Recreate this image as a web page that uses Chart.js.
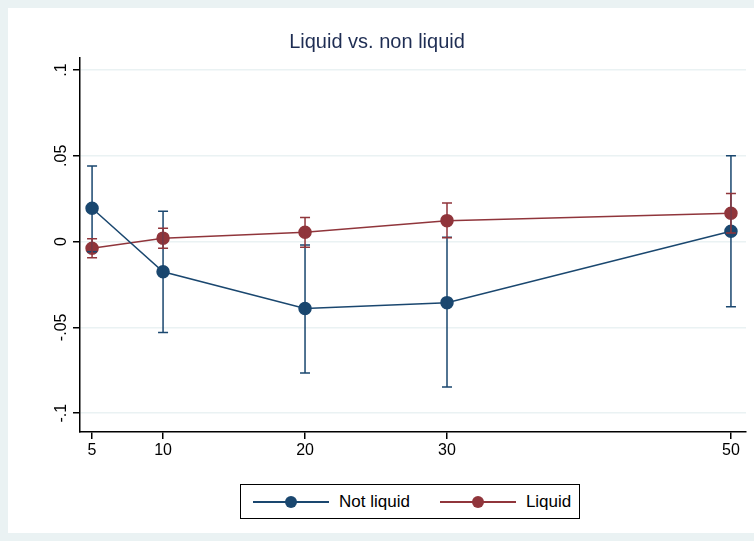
<!DOCTYPE html>
<html>
<head>
<meta charset="utf-8">
<script src="https://cdn.jsdelivr.net/npm/chart.js@4"></script>
<style>
  body { margin: 0; background: #eaf2f3; font-family: Arial, "Liberation Sans", sans-serif; }
  #wrap { position: relative; width: 754px; height: 541px; }
  #legend { position: absolute; left: 240px; top: 484px; width: 340px; height: 35px; background: #fff;
            border: 1px solid #000; box-sizing: border-box; display: flex; align-items: center; font-size: 17px; }
  .item { display: flex; align-items: center; }
  .sym { position: relative; width: 76px; height: 12px; margin-right: 10px; }
  .sym .ln { position: absolute; left: 0; right: 0; top: 5px; height: 2px; }
  .sym .dt { position: absolute; left: 32px; top: 0; width: 12px; height: 12px; border-radius: 50%; }
</style>
</head>
<body>
<div id="wrap">
  <canvas id="c" width="754" height="541"></canvas>
  <div id="legend">
    <div class="item" style="margin-left:12px"><div class="sym"><div class="ln" style="background:#1a476f"></div><div class="dt" style="background:#1a476f"></div></div>Not liquid</div>
    <div class="item" style="margin-left:30px"><div class="sym"><div class="ln" style="background:#90353b"></div><div class="dt" style="background:#90353b"></div></div>Liquid</div>
  </div>
</div>
<script>
const xValues = [5, 10, 20, 30, 50];
const notLiquid = [0.0194, -0.0176, -0.039, -0.0356, 0.006];
const notLiquidHi = [0.044, 0.0176, -0.002, 0.0025, 0.050];
const notLiquidLo = [-0.006, -0.053, -0.0766, -0.0847, -0.038];
const liquid = [-0.0039, 0.002, 0.0054, 0.0122, 0.0165];
const liquidHi = [0.0016, 0.0077, 0.014, 0.0225, 0.028];
const liquidLo = [-0.0095, -0.0039, -0.0033, 0.0022, 0.005];
const yTicks = [-0.1, -0.05, 0, 0.05, 0.1];
const yTickLabels = ['-.1', '-.05', '0', '.05', '.1'];
const blue = '#1a476f', red = '#90353b';

function pts(vals) { return xValues.map((x, i) => ({ x: x, y: vals[i] })); }

const stataPlugin = {
    id: 'stata',
    beforeDraw(chart) {
        const ctx = chart.ctx;
        ctx.save();
        ctx.fillStyle = '#eaf2f3';
        ctx.fillRect(0, 0, chart.width, chart.height);
        ctx.fillStyle = '#ffffff';
        ctx.fillRect(8, 8, chart.width - 8, chart.height - 16);
        ctx.restore();
    },
    afterDraw(chart) {
        const ctx = chart.ctx, y = chart.scales.y;
        ctx.save();
        ctx.fillStyle = '#000';
        ctx.font = '16px Arial, "Liberation Sans"';
        ctx.textAlign = 'center';
        ctx.textBaseline = 'middle';
        yTicks.forEach((v, i) => {
            ctx.save();
            ctx.translate(62, y.getPixelForValue(v));
            ctx.rotate(-Math.PI / 2);
            ctx.fillText(yTickLabels[i], 0, 0);
            ctx.restore();
        });
        ctx.fillStyle = '#1e2d53';
        ctx.font = '20px Arial, "Liberation Sans"';
        ctx.fillText('Liquid vs. non liquid', 377, 42);
        ctx.restore();
    },
    afterDatasetsDraw(chart) {
        const ctx = chart.ctx, y = chart.scales.y, x = chart.scales.x;
        const bars = [[notLiquidLo, notLiquidHi, blue], [liquidLo, liquidHi, red]];
        ctx.save();
        ctx.lineWidth = 1.5;
        bars.forEach(([lo, hi, col]) => {
            ctx.strokeStyle = col;
            xValues.forEach((xv, i) => {
                const px = x.getPixelForValue(xv), y1 = y.getPixelForValue(lo[i]), y2 = y.getPixelForValue(hi[i]);
                ctx.beginPath();
                ctx.moveTo(px, y1); ctx.lineTo(px, y2);
                ctx.moveTo(px - 5, y1); ctx.lineTo(px + 5, y1);
                ctx.moveTo(px - 5, y2); ctx.lineTo(px + 5, y2);
                ctx.stroke();
            });
        });
        ctx.restore();
    }
};

new Chart(document.getElementById('c'), {
    type: 'line',
    data: {
        datasets: [
            { label: 'Not liquid', data: pts(notLiquid), borderColor: blue, backgroundColor: blue, borderWidth: 1.5, pointRadius: 6, pointHoverRadius: 6 },
            { label: 'Liquid', data: pts(liquid), borderColor: red, backgroundColor: red, borderWidth: 1.5, pointRadius: 6, pointHoverRadius: 6 }
        ]
    },
    options: {
        responsive: false,
        animation: false,
        layout: { padding: { left: 0, right: 8, top: 58, bottom: 79 } },
        plugins: { legend: { display: false }, tooltip: { enabled: false } },
        scales: {
            x: {
                type: 'linear', min: 4.15, max: 51.06,
                afterBuildTicks: s => { s.ticks = xValues.map(v => ({ value: v })); },
                afterFit: s => { s.height = 30; },
                grid: { drawOnChartArea: false, drawTicks: true, tickColor: '#000', tickLength: 7, lineWidth: 1.5 },
                border: { color: '#000', width: 1.5 },
                ticks: { color: '#000', font: { size: 16, family: 'Arial' }, maxRotation: 0, padding: 2 }
            },
            y: {
                min: -0.111, max: 0.107,
                afterBuildTicks: s => { s.ticks = yTicks.map(v => ({ value: v })); },
                afterFit: s => { s.width = 80; },
                grid: { color: '#eaf2f3', lineWidth: 1.5, tickColor: '#000', tickLength: 7 },
                border: { color: '#000', width: 1.5 },
                ticks: { callback: () => '', padding: 0 }
            }
        }
    },
    plugins: [stataPlugin]
});
</script>
</body>
</html>
